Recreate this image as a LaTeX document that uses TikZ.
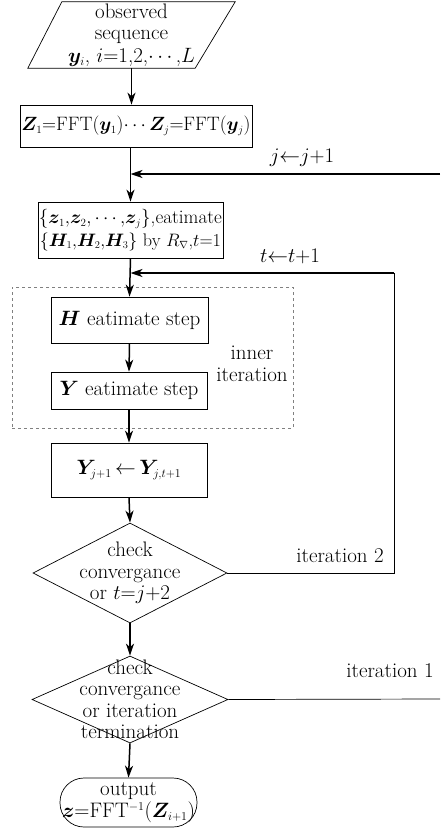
\documentclass[tikz,border=0pt]{standalone}
\usepackage{fontspec}
\usepackage{amsmath,bm,graphicx}
\usetikzlibrary{arrows.meta,shapes.geometric}
\newcommand\chartfont{\fontsize{21}{21.5}\selectfont}
% compact sub/superscripts for the large chart text
\DeclareMathSizes{21}{20.74}{12}{10}
\begin{document}
\begin{tikzpicture}[x=1pt,y=-1pt,
  box/.style={draw, line width=0.7pt, inner sep=0pt, align=center, font=\chartfont},
  txt/.style={inner sep=0pt, align=center, font=\chartfont},
  thin line/.style={line width=0.7pt},
  arr/.style={line width=1.5pt, -{Stealth[length=12pt,width=8pt,inset=3.5pt]}},
  back arr/.style={line width=1.9pt, -{Stealth[length=12pt,width=8pt,inset=3.5pt]}}]
\useasboundingbox (0,0) rectangle (440,831);

% input parallelogram: text block, outline drawn from its corners
\node[txt, minimum width=207, minimum height=66] (obs) at (131.5,35)
  {observed\\sequence\\[1.5pt]$\bm{y}_i$, $i$=1,2,$\cdots$,$L$};
\draw[thin line] ([xshift=34pt]obs.north west) -- (obs.north east)
  -- ([xshift=-40pt]obs.south east) -- (obs.south west) -- cycle;

% processing boxes
\node[box, minimum width=232, minimum height=42] (fft) at (136,126)
  {\resizebox{229pt}{!}{$\bm{Z}_1$=FFT($\bm{y}_1$)$\cdots$$\bm{Z}_j$=FFT($\bm{y}_j$)}};
\node[box, minimum width=185, minimum height=56] (est) at (130.5,230)
  {\resizebox{183pt}{!}{$\{\bm{z}_1{,}\bm{z}_2{,}\cdots{,}\bm{z}_j\}$,eatimate}\\[1pt]
   \resizebox{181pt}{!}{$\{\bm{H}_1{,}\bm{H}_2{,}\bm{H}_3\}$ by $R_\nabla$,$t$=1}};

% inner iteration group
\node[draw=gray, dashed, line width=0.6pt, minimum width=281, minimum height=141, inner sep=0pt]
  (inner) at (152.5,357.5) {};
\node[box, minimum width=157, minimum height=46] (hstep) at (129.5,320) {$\bm{H}$ eatimate step};
\node[box, minimum width=156, minimum height=37] (ystep) at (129,390.5) {$\bm{Y}$ eatimate step};
\node[txt] (innert) at (252,364) {inner\\iteration};

\node[box, minimum width=156, minimum height=54] (upd) at (129,470)
  {$\bm{Y}_{j+1}\,{\leftarrow}\,\bm{Y}_{j,t+1}$};

% decisions
\node[draw, line width=0.7pt, diamond, minimum width=194, minimum height=100, inner sep=0pt]
  (dia1) at (130,573) {};
\node[txt] (dia1t) at (dia1.center) {check\\convergance\\or $t$=$j$+2};
\node[draw, line width=0.7pt, diamond, minimum width=196, minimum height=87, inner sep=0pt]
  (dia2) at (130,699.5) {};
\node[txt] (dia2t) at (dia2.center) {check\\convergance\\or iteration\\termination};

% output terminal
\node[box, rounded corners=24pt, minimum width=137, minimum height=49] (out) at (128.5,802.5)
  {output\\[1pt]$\bm{z}$=FFT$^{-1}$($\bm{Z}_{i+1}$)};

% loop-back labels
\node[txt] (jlab) at (302,158) {$j{\leftarrow}j{+}1$};
\node[txt] (tlab) at (290,256) {$t{\leftarrow}t{+}1$};
\node[txt] (it2) at (340,556) {iteration 2};
\node[txt] (it1) at (390,671) {iteration 1};

% loop coordinates
\coordinate (jr) at (440,174);
\coordinate (tr) at (394,273);
\coordinate (er) at (440,699);

% main flow
\draw[arr] (obs.south) -- (obs.south |- fft.north);
\draw[arr] (est.north |- fft.south) -- (est.north);
\draw[arr] (est.south) -- (hstep.north);
\draw[arr] (hstep.south) -- (ystep.north);
\draw[arr] (ystep.south) -- (upd.north);
\draw[arr] (upd.south) -- (dia1.north);
\draw[arr] (dia1.south) -- (dia2.north);
\draw[arr] (dia2.south) -- (out.north);

% feedback loops
\draw[back arr] (jr) -- (jr -| est.north);
\draw[thin line] (dia1.east) -- (dia1.east -| tr) -- (tr);
\draw[back arr] (tr) -- (tr -| est.south);
\draw[thin line] (dia2.east) -- (er);
\end{tikzpicture}
\end{document}
